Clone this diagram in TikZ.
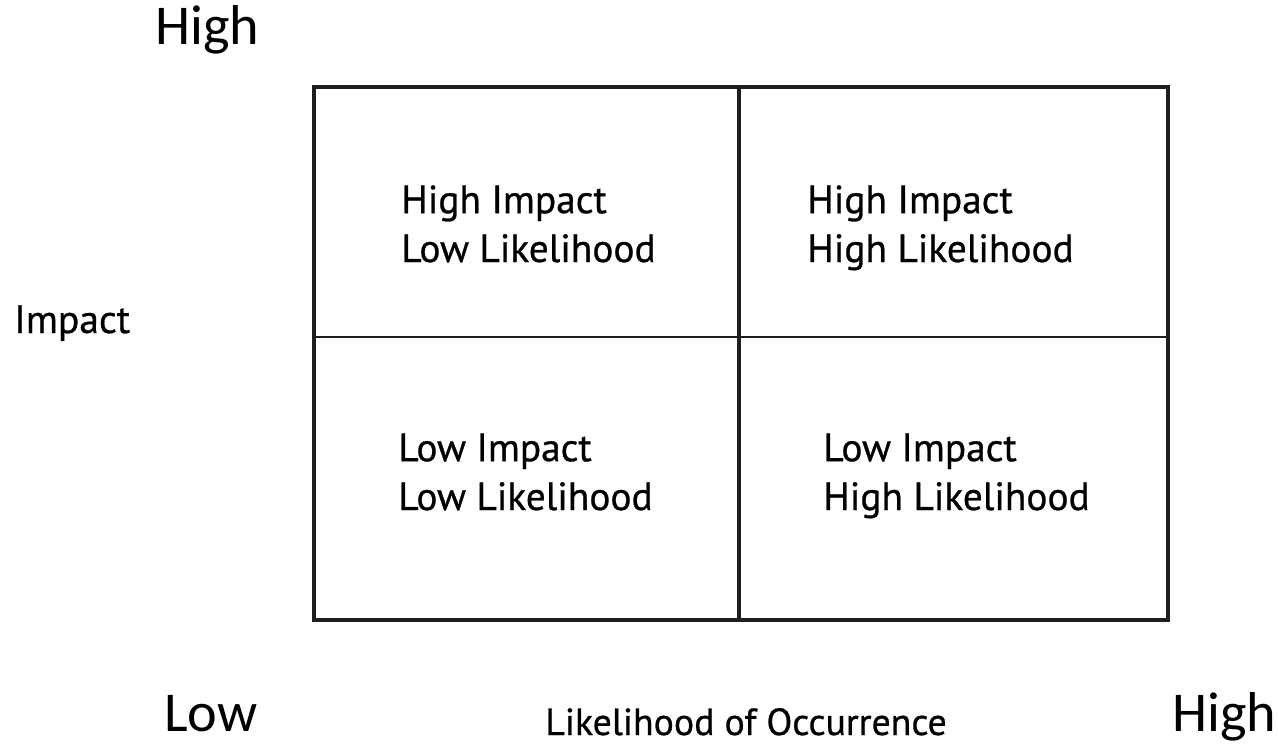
\documentclass[tikz,border=0pt]{standalone}
\usepackage{fontspec}
\setmainfont[FakeBold=0.7]{PT Sans}
\newfontfamily\axisfont{Carlito}

\tikzset{
  grid line/.style={line width=2.2pt, black!88},
  mid line/.style={line width=1.4pt, black!88},
  end label/.style={font=\axisfont\fontsize{32}{32}\selectfont, anchor=base west, inner sep=0pt},
  cell label/.style={font=\fontsize{22.4}{27.8}\selectfont, align=left, anchor=base west, inner sep=0pt}
}

\begin{document}
\begin{tikzpicture}[x=0.02cm, y=-0.02cm]
  \useasboundingbox (0,0) rectangle (1278,744);

  % corners of the matrix
  \coordinate (nw) at (314,87);
  \coordinate (ne) at (1168,87);
  \coordinate (sw) at (314,620);
  \coordinate (se) at (1168,620);
  \coordinate (top) at (739,87);
  \coordinate (bottom) at (739,620);
  \coordinate (left) at (314,337);
  \coordinate (right) at (1168,337);

  \draw[grid line] (nw) rectangle (se);
  \draw[grid line] (top) -- (bottom);
  \draw[mid line] (left) -- (right);

  % the four quadrants (base is the second line)
  \begin{scope}[every node/.style={cell label}]
    \node (hilo) at (401,262) {High Impact\\Low Likelihood};
    \node (hihi) at (807,262) {High Impact\\High Likelihood};
    \node (lolo) at (398,510) {Low Impact\\Low Likelihood};
    \node (lohi) at (823,510) {Low Impact\\High Likelihood};
  \end{scope}

  % axis labels
  \node[end label] (yhigh) at (155,44) {High};
  \node[end label] (xlow) at (164,731) {Low};
  \node[end label] (xhigh) at (1172,731) {High};
  \node[anchor=base west, inner sep=0pt, font=\fontsize{22.5}{22.5}\selectfont] (yname) at (14,333) {Impact};
  \node[anchor=base west, inner sep=0pt, font=\fontsize{21.5}{21.5}\selectfont] (xname) at (545,735) {Likelihood of Occurrence};

\end{tikzpicture}
\end{document}
